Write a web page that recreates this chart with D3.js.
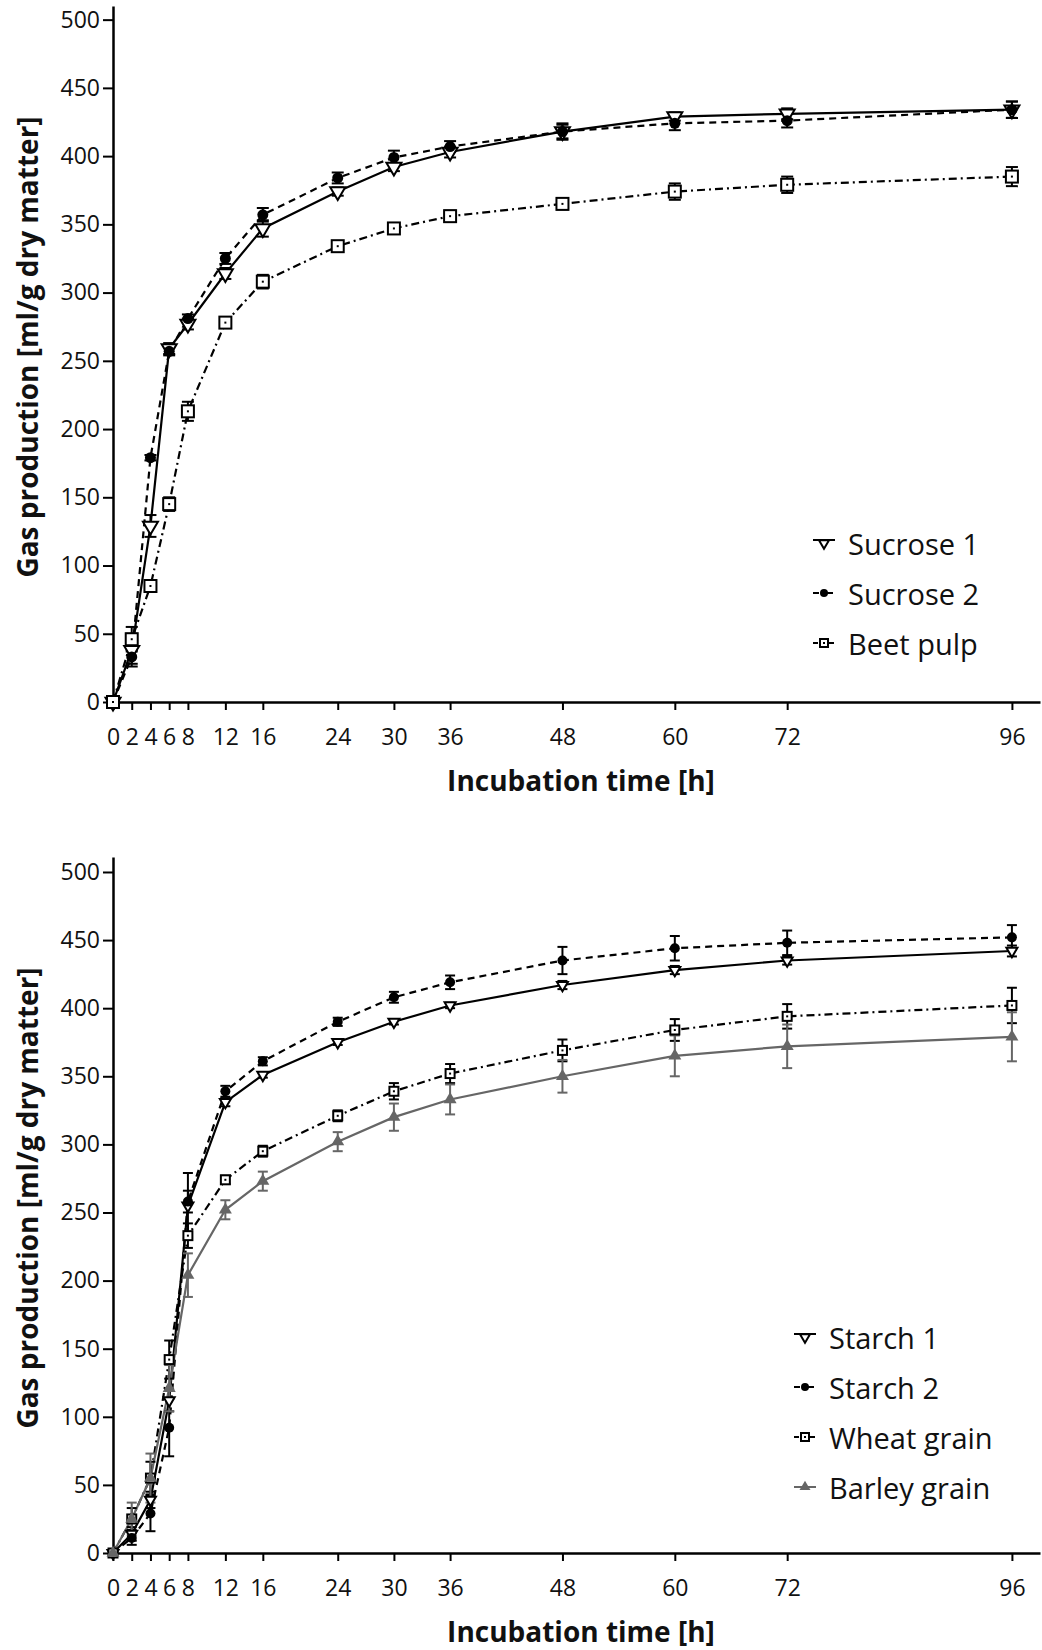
<!DOCTYPE html>
<html>
<head>
<meta charset="utf-8">
<script src="https://cdn.jsdelivr.net/npm/d3@7"></script>
<style>
  body { margin: 0; background: #fff; }
  text { font-family: "Open Sans", sans-serif; fill: #111; }
</style>
</head>
<body>
<div id="chart"></div>
<script>
// incubation times and axis ticks
const hours = [0, 2, 4, 6, 8, 12, 16, 24, 30, 36, 48, 60, 72, 96];
const hourTicks = [0, 2, 4, 6, 8, 12, 16, 24, 30, 36, 48, 60, 72, 96];
const gasTicks = [0, 50, 100, 150, 200, 250, 300, 350, 400, 450, 500];

// top panel
const sucrose1 = [0, 38, 129, 259, 277, 314, 347, 374, 392, 403, 418, 429, 431, 434];
const sucrose1Err = [0, 12, 8, 4, 4, 4, 6, 3, 3, 4, 5, 3, 4, 6];
const sucrose2 = [0, 33, 179, 257, 281, 325, 357, 384, 399, 407, 418, 424, 426, 434];
const sucrose2Err = [0, 5, 2, 3, 3, 4, 5, 4, 5, 4, 6, 5, 5, 6];
const beetPulp = [0, 46, 85, 145, 213, 278, 308, 334, 347, 356, 365, 374, 379, 385];
const beetPulpErr = [0, 9, 4, 5, 7, 3, 5, 3, 3, 4, 4, 6, 6, 7];

// bottom panel
const starch1 = [0, 14, 39, 112, 255, 331, 351, 375, 390, 402, 417, 428, 435, 442];
const starch1Err = [0, 5, 6, 8, 24, 3, 2, 2, 2, 2, 3, 3, 3, 4];
const starch2 = [0, 11, 29, 92, 258, 339, 361, 390, 408, 419, 435, 444, 448, 452];
const starch2Err = [0, 5, 13, 21, 8, 4, 3, 3, 4, 5, 10, 9, 9, 9];
const wheatGrain = [0, 25, 55, 142, 233, 274, 295, 321, 339, 352, 369, 384, 394, 402];
const wheatGrainErr = [0, 8, 12, 14, 9, 3, 4, 4, 6, 7, 8, 8, 9, 13];
const barleyGrain = [0, 25, 55, 121, 204, 252, 273, 302, 320, 333, 350, 365, 372, 379];
const barleyGrainErr = [0, 12, 18, 17, 16, 7, 7, 7, 10, 11, 12, 15, 16, 18];

const GRAY = "#666";

let svg = d3.select("#chart").append("svg")
  .attr("width", 1042)
  .attr("height", 1650);

drawPanel({
  yTop: 6, yBottom: 702, yMax: 510,
  big: true,
  legend: {x: 824, y: 543, textX: 848},
  series: [
    {name: "Sucrose 1", values: sucrose1, errors: sucrose1Err, marker: "triDown", dash: null, color: "#000"},
    {name: "Sucrose 2", values: sucrose2, errors: sucrose2Err, marker: "circle", dash: "7,5", color: "#000"},
    {name: "Beet pulp", values: beetPulp, errors: beetPulpErr, marker: "square", dash: "8,4,2,4", color: "#000"}
  ]
});

drawPanel({
  yTop: 857, yBottom: 1553, yMax: 511,
  big: false,
  legend: {x: 805, y: 1337, textX: 829},
  series: [
    {name: "Starch 1", values: starch1, errors: starch1Err, marker: "triDown", dash: null, color: "#000"},
    {name: "Starch 2", values: starch2, errors: starch2Err, marker: "circle", dash: "7,5", color: "#000"},
    {name: "Wheat grain", values: wheatGrain, errors: wheatGrainErr, marker: "square", dash: "8,4,2,4", color: "#000"},
    {name: "Barley grain", values: barleyGrain, errors: barleyGrainErr, marker: "triUp", dash: null, color: GRAY}
  ]
});

function drawPanel(p) {
  let x = d3.scaleLinear().domain([0, 99]).range([113, 1040]),
      y = d3.scaleLinear().domain([0, p.yMax]).range([p.yBottom, p.yTop]),
      g = svg.append("g");

  let sizes = p.big
    ? {tri: 15, circle: 5.5, square: 12, triUp: 13, cap: 12}
    : {tri: 11, circle: 5, square: 9, triUp: 13, cap: 10};

  // axes
  let yAxis = g.append("g")
    .attr("transform", "translate(" + x(0) + ",0)")
    .call(d3.axisLeft(y).tickValues(gasTicks).tickSize(10).tickPadding(3).tickSizeOuter(0));

  let xAxis = g.append("g")
    .attr("transform", "translate(0," + y(0) + ")")
    .call(d3.axisBottom(x).tickValues(hourTicks).tickSize(8).tickPadding(19).tickSizeOuter(0));

  [yAxis, xAxis].forEach(a => {
    a.attr("font-family", null).attr("font-size", null);
    a.select(".domain").attr("stroke", "#000").attr("stroke-width", 2.5);
    a.selectAll(".tick line").attr("stroke", "#000").attr("stroke-width", 2);
    a.selectAll(".tick text").style("font-size", "23px").attr("fill", "#111");
  });

  // axis titles
  g.append("text")
    .attr("transform", "translate(27," + (p.yBottom - 355) + ") rotate(-90)")
    .attr("text-anchor", "middle")
    .attr("dominant-baseline", "central")
    .style("font-size", "28px")
    .style("font-weight", "bold")
    .text("Gas production [ml/g dry matter]");

  g.append("text")
    .attr("x", 581)
    .attr("y", p.yBottom + 78)
    .attr("text-anchor", "middle")
    .attr("dominant-baseline", "central")
    .style("font-size", "28px")
    .style("font-weight", "bold")
    .text("Incubation time [h]");

  let line = d3.line()
    .x((d, i) => x(hours[i]))
    .y(d => y(d));

  p.series.forEach(s => {
    g.append("path")
      .attr("d", line(s.values))
      .attr("fill", "none")
      .attr("stroke", s.color)
      .attr("stroke-width", 2.2)
      .attr("stroke-dasharray", s.dash);
  });

  p.series.forEach(s => {
    let eb = g.append("g").attr("stroke", s.color).attr("stroke-width", 2);
    s.values.forEach((v, i) => {
      let e = s.errors[i];
      if (!e) return;
      let cx = x(hours[i]), hi = y(v + e), lo = y(v - e), w = sizes.cap / 2;
      eb.append("line").attr("x1", cx).attr("x2", cx).attr("y1", hi).attr("y2", lo);
      eb.append("line").attr("x1", cx - w).attr("x2", cx + w).attr("y1", hi).attr("y2", hi);
      eb.append("line").attr("x1", cx - w).attr("x2", cx + w).attr("y1", lo).attr("y2", lo);
    });
  });

  p.series.forEach(s => {
    s.values.forEach((v, i) => {
      drawMarker(g, s.marker, x(hours[i]), y(v), sizes, s.color);
    });
  });

  // legend
  let legendSizes = {tri: 10, circle: 4, square: 8, triUp: 11};
  p.series.forEach((s, i) => {
    let ly = p.legend.y + i * 50,
        lx = p.legend.x;
    g.append("line")
      .attr("x1", lx - 11).attr("x2", lx + 11)
      .attr("y1", s.marker == "triDown" ? ly - 3 : ly).attr("y2", s.marker == "triDown" ? ly - 3 : ly)
      .attr("stroke", s.color)
      .attr("stroke-width", 2)
      .attr("stroke-dasharray", s.dash ? (s.marker == "circle" ? "6,3,2,3" : "5,3") : null);
    drawMarker(g, s.marker, lx, ly, legendSizes, s.color);
    g.append("text")
      .attr("x", p.legend.textX)
      .attr("y", ly)
      .attr("dominant-baseline", "central")
      .style("font-size", "29px")
      .text(s.name);
  });
}

function drawMarker(g, type, cx, cy, sz, color) {
  if (type == "circle") {
    g.append("circle")
      .attr("cx", cx).attr("cy", cy).attr("r", sz.circle)
      .attr("fill", color);
  } else if (type == "square") {
    let a = sz.square;
    g.append("rect")
      .attr("x", cx - a / 2).attr("y", cy - a / 2)
      .attr("width", a).attr("height", a)
      .attr("fill", "#fff").attr("stroke", color).attr("stroke-width", 2);
    g.append("rect")
      .attr("x", cx - 1).attr("y", cy - 1).attr("width", 2).attr("height", 2)
      .attr("fill", color);
  } else if (type == "triDown") {
    let w = sz.tri, h = w * 0.85;
    g.append("path")
      .attr("d", "M" + (cx - w / 2) + "," + (cy - h / 3) + "L" + (cx + w / 2) + "," + (cy - h / 3) +
                 "L" + cx + "," + (cy + 2 * h / 3) + "Z")
      .attr("fill", "#fff").attr("stroke", color).attr("stroke-width", 2);
  } else if (type == "triUp") {
    let w = sz.triUp, h = w * 0.85;
    g.append("path")
      .attr("d", "M" + (cx - w / 2) + "," + (cy + h / 3) + "L" + (cx + w / 2) + "," + (cy + h / 3) +
                 "L" + cx + "," + (cy - 2 * h / 3) + "Z")
      .attr("fill", color);
  }
}
</script>
</body>
</html>
